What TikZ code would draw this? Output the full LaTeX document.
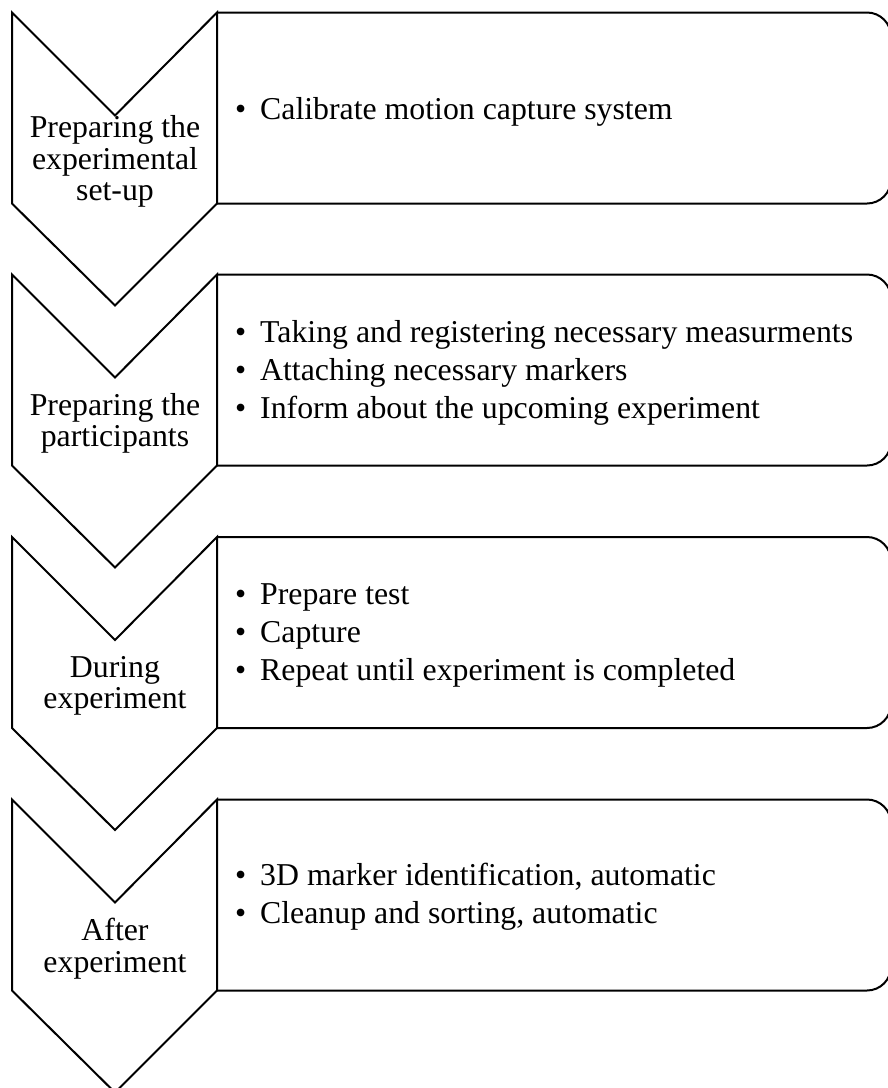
\documentclass[tikz,border=0pt]{standalone}
\usepackage{fontspec}
\setmainfont{Liberation Serif}
\begin{document}
\begin{tikzpicture}[x=1pt, y=-1pt,
  outline/.style={draw=black, line width=2pt},
  stagelabel/.style={align=center, inner sep=0pt,
    font=\fontsize{31.8}{31.5}\selectfont},
  item/.style={anchor=base west, inner sep=0pt,
    font=\fontsize{31.8}{38}\selectfont},
]
\newcommand{\bul}{\makebox[25pt][l]{\textbullet}}
% canvas
\path[use as bounding box] (0,0) rectangle (888,1088);
\clip (0,0) rectangle (888,1088);

% one stage: chevron on the left, detail box on the right
% #1 = top edge of the stage
\newcommand{\stage}[1]{%
  \draw[outline, rounded corners=24pt]
    (217,#1) -- (891,#1) -- (891,#1+191) -- (217,#1+191);
  \draw[outline, line join=miter]
    (12,#1) -- (115,#1+103) -- (217,#1) -- (217,#1+191)
    -- (115,#1+293) -- (12,#1+191) -- cycle;
}
\stage{12.5}
\stage{274.5}
\stage{537}
\stage{799.5}

% stage titles
\node[stagelabel] (s1) at (115,161.5) {Preparing the\\experimental\\set-up};
\node[stagelabel] (s2) at (115,423.5) {Preparing the\\participants};
\node[stagelabel] (s3) at (115,686) {During\\experiment};
\node[stagelabel] (s4) at (115,948.5) {After\\experiment};

% stage details
\node[item] (d1a) at (235,119) {\bul Calibrate motion capture system};

\node[item] (d2a) at (235,342) {\bul Taking and registering necessary measurments};
\node[item] (d2b) at (235,380) {\bul Attaching necessary markers};
\node[item] (d2c) at (235,418) {\bul Inform about the upcoming experiment};

\node[item] (d3a) at (235,604) {\bul Prepare test};
\node[item] (d3b) at (235,642) {\bul Capture};
\node[item] (d3c) at (235,680) {\bul Repeat until experiment is completed};

\node[item] (d4a) at (235,885) {\bul 3D marker identification, automatic};
\node[item] (d4b) at (235,923) {\bul Cleanup and sorting, automatic};
\end{tikzpicture}
\end{document}
